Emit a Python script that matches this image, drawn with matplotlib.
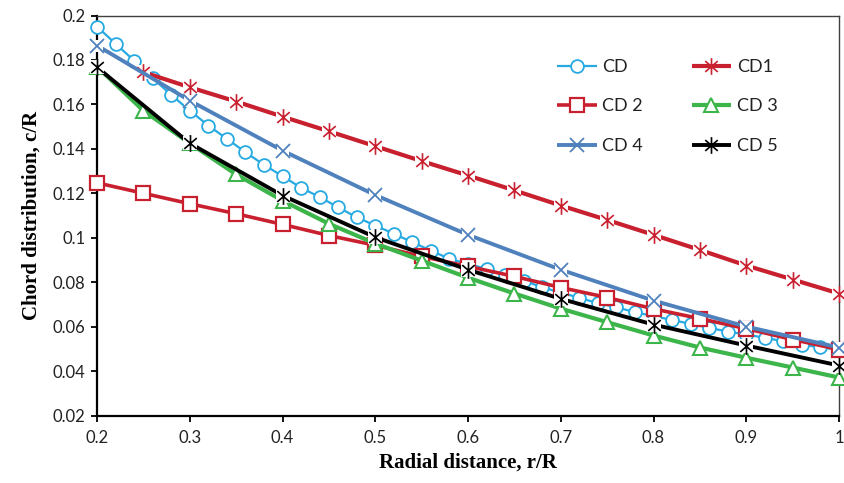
import matplotlib
matplotlib.use("Agg")
import matplotlib.pyplot as plt
from matplotlib.path import Path
from matplotlib.lines import Line2D
from matplotlib.ticker import FuncFormatter

# ---------------- data ----------------
x_cd = [0.20, 0.22, 0.24, 0.26, 0.28, 0.30, 0.32, 0.34, 0.36, 0.38, 0.40,
        0.42, 0.44, 0.46, 0.48, 0.50, 0.52, 0.54, 0.56, 0.58, 0.60,
        0.62, 0.64, 0.66, 0.68, 0.70, 0.72, 0.74, 0.76, 0.78, 0.80,
        0.82, 0.84, 0.86, 0.88, 0.90, 0.92, 0.94, 0.96, 0.98, 1.00]
y_cd = [0.1950, 0.1873, 0.1797, 0.1718, 0.1643, 0.1572, 0.1505, 0.1445, 0.1385, 0.1328, 0.1277,
        0.1225, 0.1183, 0.1137, 0.1092, 0.1055, 0.1018, 0.0980, 0.0942, 0.0905, 0.0882,
        0.0860, 0.0832, 0.0807, 0.0777, 0.0753, 0.0730, 0.0705, 0.0687, 0.0665, 0.0647,
        0.0630, 0.0612, 0.0594, 0.0578, 0.0564, 0.0550, 0.0534, 0.0518, 0.0507, 0.0496]

x_cd1 = [0.25, 0.30, 0.35, 0.40, 0.45, 0.50, 0.55, 0.60, 0.65, 0.70, 0.75, 0.80, 0.85, 0.90, 0.95, 1.00]
y_cd1 = [0.1745, 0.1677, 0.1613, 0.1545, 0.1479, 0.1412, 0.1345, 0.1280, 0.1213, 0.1145,
         0.1080, 0.1013, 0.0945, 0.0875, 0.0812, 0.0749]

x_cd2 = [0.20, 0.25, 0.30, 0.35, 0.40, 0.45, 0.50, 0.55, 0.60, 0.65, 0.70, 0.75, 0.80, 0.85, 0.90, 0.95, 1.00]
y_cd2 = [0.1247, 0.1200, 0.1153, 0.1108, 0.1060, 0.1010, 0.0966, 0.0916, 0.0871, 0.0826,
         0.0776, 0.0731, 0.0680, 0.0636, 0.0591, 0.0542, 0.0497]

x_cd3 = [0.20, 0.25, 0.30, 0.35, 0.40, 0.45, 0.50, 0.55, 0.60, 0.65, 0.70, 0.75, 0.80, 0.85, 0.90, 0.95, 1.00]
y_cd3 = [0.1770, 0.1572, 0.1425, 0.1285, 0.1167, 0.1063, 0.0974, 0.0897, 0.0820, 0.0749,
         0.0681, 0.0620, 0.0560, 0.0506, 0.0460, 0.0416, 0.0371]

x_cd4 = [0.2, 0.3, 0.4, 0.5, 0.6, 0.7, 0.8, 0.9, 1.0]
y_cd4 = [0.1865, 0.1617, 0.1392, 0.1192, 0.1013, 0.0856, 0.0717, 0.0600, 0.0506]

x_cd5 = [0.2, 0.3, 0.4, 0.5, 0.6, 0.7, 0.8, 0.9, 1.0]
y_cd5 = [0.1767, 0.1425, 0.1190, 0.1002, 0.0856, 0.0725, 0.0609, 0.0515, 0.0425]

labels = ["CD", "CD1", "CD 2", "CD 3", "CD 4", "CD 5"]
x_ticks = [0.2, 0.3, 0.4, 0.5, 0.6, 0.7, 0.8, 0.9, 1.0]
y_ticks = [0.02, 0.04, 0.06, 0.08, 0.10, 0.12, 0.14, 0.16, 0.18, 0.20]

# ---------------- styling ----------------
c_cd = "#27aae1"
c_red = "#c8202f"
c_green = "#3cb54a"
c_blue = "#4f81bd"
c_black = "#000000"

# Excel-like star marker: X plus vertical bar
star = Path([(-0.75, -0.65), (0.75, 0.65), (-0.75, 0.65), (0.75, -0.65), (0, -1), (0, 1)],
            [Path.MOVETO, Path.LINETO, Path.MOVETO, Path.LINETO, Path.MOVETO, Path.LINETO])

fig = plt.figure(figsize=(8.45, 4.83), dpi=100)
ax = fig.add_axes([97 / 845, 1 - 415.5 / 483, 742 / 845, 400 / 483])

series = [
    dict(x=x_cd, y=y_cd, color=c_cd, lw=1.6, marker="o", ms=9.2, mfc="white", mew=1.3, gap=False),
    dict(x=x_cd1, y=y_cd1, color=c_red, lw=3.0, marker=star, ms=12, mfc="none", mew=1.2, gap=True),
    dict(x=x_cd2, y=y_cd2, color=c_red, lw=2.6, marker="s", ms=10, mfc="white", mew=1.6, gap=False),
    dict(x=x_cd3, y=y_cd3, color=c_green, lw=3.0, marker="^", ms=10.5, mfc="white", mew=1.5, gap=False),
    dict(x=x_cd4, y=y_cd4, color=c_blue, lw=2.8, marker="x", ms=10.5, mfc="none", mew=1.3, gap=True),
    dict(x=x_cd5, y=y_cd5, color=c_black, lw=2.8, marker=star, ms=12, mfc="none", mew=1.2, gap=True),
]

handles = []
for i, s in enumerate(series):
    z = 3 + i
    if s["gap"]:
        ax.plot(s["x"], s["y"], color=s["color"], lw=s["lw"], marker="s", ms=s["ms"] * 0.8,
                mfc="white", mec="white", mew=0, zorder=z, clip_on=False,
                solid_capstyle="butt")
        ax.plot(s["x"], s["y"], ls="none", marker=s["marker"], ms=s["ms"], mec=s["color"],
                mfc=s["mfc"], mew=s["mew"], zorder=z + 0.5, clip_on=False)
    else:
        ax.plot(s["x"], s["y"], color=s["color"], lw=s["lw"], marker=s["marker"], ms=s["ms"],
                mec=s["color"], mfc=s["mfc"], mew=s["mew"], zorder=z, clip_on=False,
                solid_capstyle="butt")
    handles.append(Line2D([], [], color=s["color"], lw=s["lw"], marker=s["marker"],
                          ms=s["ms"], mec=s["color"], mfc=s["mfc"], mew=s["mew"],
                          solid_capstyle="butt"))

ax.set_xlim(0.2, 1.0)
ax.set_ylim(0.02, 0.2)
ax.set_xticks(x_ticks)
ax.set_yticks(y_ticks)
fmt = FuncFormatter(lambda v, p: ("%.2f" % v).rstrip("0").rstrip(".") if v != 0 else "0")
ax.xaxis.set_major_formatter(fmt)
ax.yaxis.set_major_formatter(fmt)

tick_font = "Lato"
for lab in ax.get_xticklabels() + ax.get_yticklabels():
    lab.set_fontfamily(tick_font)
    lab.set_fontsize(12)
    lab.set_color("#222222")

ax.tick_params(axis="both", direction="out", length=4.5, width=1.3, color="black")
ax.tick_params(axis="x", pad=6)
ax.tick_params(axis="y", pad=4)

for side in ["left", "bottom"]:
    ax.spines[side].set_linewidth(1.6)
    ax.spines[side].set_color("black")
for side in ["top", "right"]:
    ax.spines[side].set_linewidth(1.0)
    ax.spines[side].set_color("#404040")

ax.set_xlabel("Radial distance, r/R", fontfamily="Liberation Serif", fontweight="bold",
              fontsize=15, labelpad=5)
ax.set_ylabel("Chord distribution, c/R", fontfamily="Liberation Serif", fontweight="bold",
              fontsize=15, labelpad=8)

# legend: row-wise order like the reference (CD, CD1 / CD 2, CD 3 / CD 4, CD 5)
order = [0, 2, 4, 1, 3, 5]
leg = ax.legend([handles[k] for k in order], [labels[k] for k in order], ncol=2,
                loc="upper left",
                bbox_to_anchor=((557 - 97) / 742, (415.5 - 59) / 400),
                frameon=False, prop={"family": tick_font, "size": 13},
                handlelength=2.2, handletextpad=0.3, columnspacing=2.7,
                labelspacing=1.3, borderaxespad=0, borderpad=0)
for t in leg.get_texts():
    t.set_color("#222222")

fig.savefig("out.png", dpi=100)
